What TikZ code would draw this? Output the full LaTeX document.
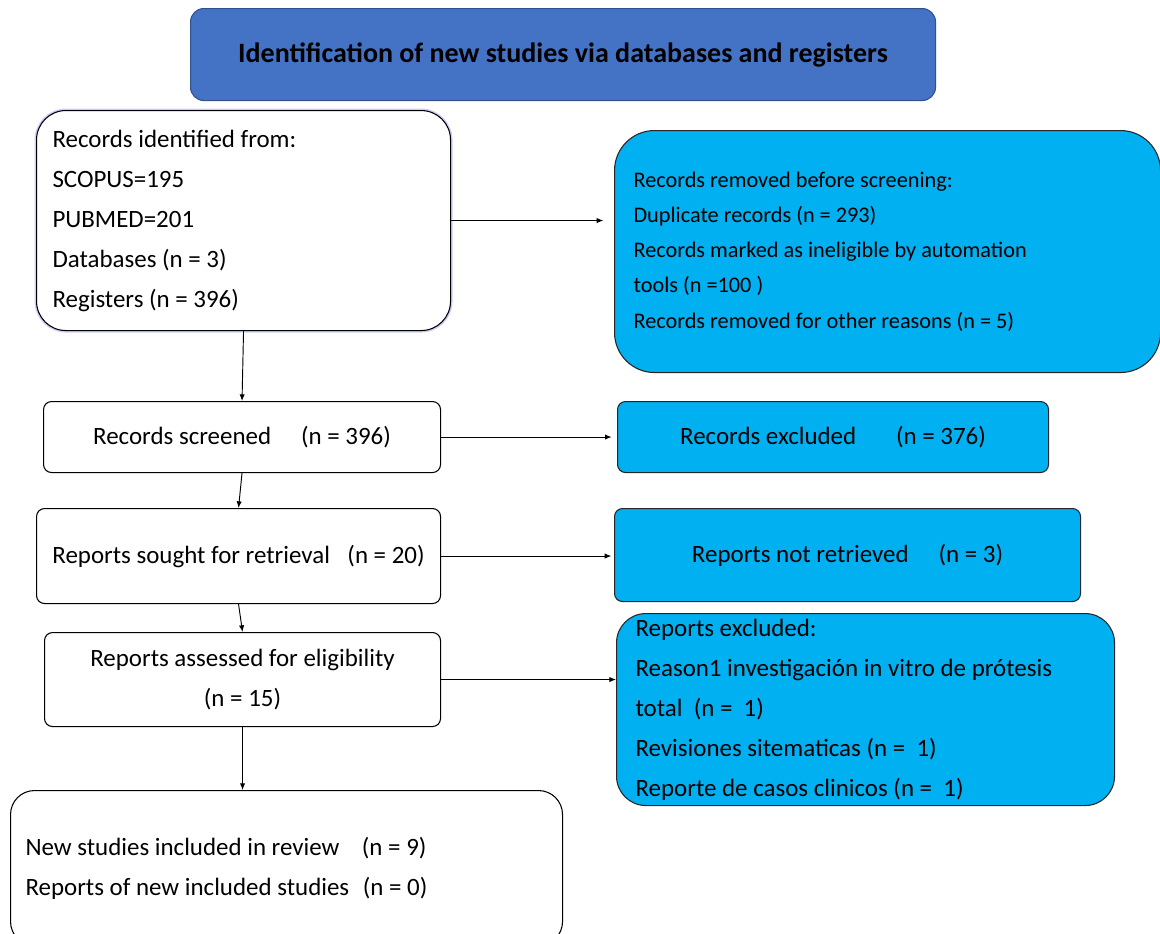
\documentclass[tikz,border=0pt]{standalone}
\usepackage{fontspec}
\setmainfont{Carlito}
\usetikzlibrary{arrows.meta}
\definecolor{prismacyan}{HTML}{00B0F0}
\definecolor{titleblue}{HTML}{4472C4}
\definecolor{titleedge}{HTML}{2F528F}
\newcommand{\bodyfont}{\fontsize{18.7}{30}\selectfont}
\newcommand{\smallbody}{\fontsize{16.7}{26.4}\selectfont}
\begin{document}
\begin{tikzpicture}[x=0.75pt, y=-0.75pt,
  every node/.style={font=\bodyfont, inner sep=0pt},
  whitebox/.style={draw=black, fill=white, line width=0.8pt, rounded corners=6pt},
  cyanbox/.style={draw=black!85, fill=prismacyan, line width=0.8pt, rounded corners=6pt},
  flow/.style={-{Latex[length=5pt,width=4pt]}, line width=0.7pt}]
  \useasboundingbox (0,0) rectangle (1160,933);
  \clip (0,0) rectangle (1160,933);
  % header
  \node[anchor=north west, draw=titleedge, fill=titleblue, rounded corners=10pt, line width=0.8pt,
    minimum width=558.75pt, minimum height=69pt, font=\bfseries\fontsize{21}{25}\selectfont] (title) at (190,8)
    {Identification of new studies via databases and registers};
  % left column
  \node[whitebox, anchor=north west, rounded corners=22pt, preaction={draw=blue!20, line width=3pt},
    minimum height=165pt, inner xsep=12pt, text width=286.5pt, align=flush left] (ident) at (36,110)
    {Records identified from:\\ SCOPUS=195\\ PUBMED=201\\ Databases (n = 3)\\ Registers (n = 396)};
  \node[whitebox, anchor=north west, minimum width=297.75pt, minimum height=53.25pt] (screened) at (43,401)
    {Records screened\hspace{1.2em}(n = 396)};
  \node[whitebox, anchor=north west, minimum width=303pt, minimum height=71.25pt] (sought) at (36,508)
    {Reports sought for retrieval\hspace{0.7em}(n = 20)};
  \node[whitebox, anchor=north west, minimum width=297pt, minimum height=70.5pt, align=center] (assessed) at (44,632)
    {Reports assessed for eligibility\\ (n = 15)};
  \node[whitebox, anchor=north west, rounded corners=18pt, minimum height=116.25pt,
    inner xsep=11.25pt, text width=391.5pt, align=flush left] (included) at (10,790)
    {New studies included in review\hspace{0.9em}(n = 9)\\ Reports of new included studies\hspace{0.55em}(n = 0)};
  % right column
  \node[cyanbox, anchor=north west, rounded corners=30pt, minimum height=181.5pt,
    inner xsep=14.25pt, text width=381pt, align=flush left, font=\smallbody] (removed) at (614,130)
    {Records removed before screening:\\ Duplicate records (n = 293)\\ Records marked as ineligible by automation\\
     tools (n =100 )\\ Records removed for other reasons (n = 5)};
  \node[cyanbox, anchor=north west, minimum width=323.25pt, minimum height=53.25pt] (recexcl) at (617,401)
    {Records excluded\hspace{1.6em}(n = 376)};
  \node[cyanbox, anchor=north west, minimum width=349.5pt, minimum height=69.75pt] (notret) at (614,508)
    {Reports not retrieved\hspace{1.2em}(n = 3)};
  \node[cyanbox, anchor=north west, rounded corners=22pt, minimum height=144pt,
    inner xsep=14.25pt, text width=345pt, align=flush left] (repexcl) at (616,613)
    {Reports excluded:\\ Reason1 investigación in vitro de prótesis\\ total\ \ (n =\ \ 1)\\
     Revisiones sitematicas (n =\ \ 1)\\ Reporte de casos clinicos (n =\ \ 1)};
  % connectors
  \draw[flow] (ident.south) -- (screened.north);
  \draw[flow] (screened.south) -- (sought.north);
  \draw[flow] (sought.south) -- (assessed.north);
  \draw[flow] (assessed.south) -- (assessed.south |- included.north);
  \draw[flow, shorten >=8pt] (ident.east) -- (ident.east -| removed.west);
  \draw[flow, shorten >=4pt] (screened.east) -- (recexcl.west);
  \draw[flow, shorten >=2pt] (sought.east) -- (sought.east -| notret.west);
  \draw[flow] (assessed.east) -- (assessed.east -| repexcl.west);
\end{tikzpicture}
\end{document}
